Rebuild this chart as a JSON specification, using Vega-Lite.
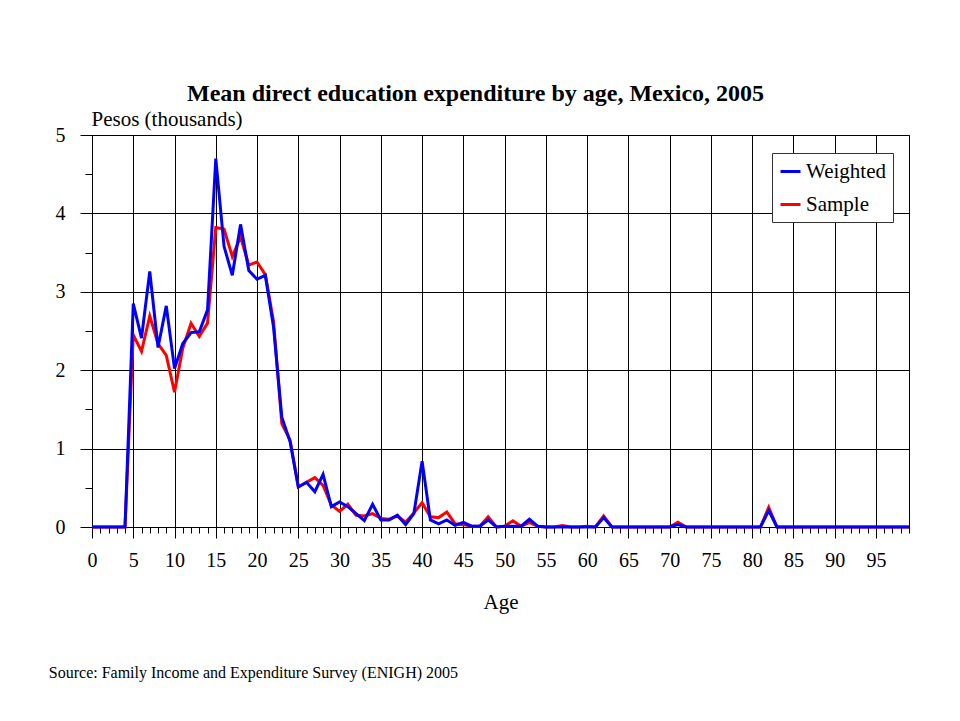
{
  "$schema": "https://vega.github.io/schema/vega-lite/v6.json",
  "width": 817,
  "height": 392,
  "autosize": {"type": "none"},
  "padding": {"left": 92, "top": 135, "right": 51, "bottom": 194},
  "background": "white",
  "config": {
    "view": {"stroke": "black", "strokeWidth": 1},
    "font": "Liberation Serif",
    "axis": {
      "labelFont": "Liberation Serif",
      "titleFont": "Liberation Serif",
      "labelColor": "black",
      "titleColor": "black",
      "titleFontWeight": "normal",
      "labelFlush": false,
      "labelOverlap": false
    },
    "legend": {
      "orient": "none",
      "legendX": 680,
      "legendY": 18,
      "strokeColor": "#333333",
      "fillColor": "white",
      "padding": 7,
      "labelFont": "Liberation Serif",
      "labelFontSize": 21,
      "labelColor": "black",
      "symbolType": "stroke",
      "symbolStrokeWidth": 3,
      "symbolSize": 400,
      "labelOffset": 4,
      "rowPadding": 11
    }
  },
  "data": {
    "values": [
      {"age": 0, "Weighted": 0, "Sample": 0},
      {"age": 1, "Weighted": 0, "Sample": 0},
      {"age": 2, "Weighted": 0, "Sample": 0},
      {"age": 3, "Weighted": 0, "Sample": 0},
      {"age": 4, "Weighted": 0, "Sample": 0},
      {"age": 5, "Weighted": 2.85, "Sample": 2.45},
      {"age": 6, "Weighted": 2.41, "Sample": 2.24},
      {"age": 7, "Weighted": 3.26, "Sample": 2.69},
      {"age": 8, "Weighted": 2.29, "Sample": 2.34},
      {"age": 9, "Weighted": 2.82, "Sample": 2.19},
      {"age": 10, "Weighted": 2.02, "Sample": 1.72},
      {"age": 11, "Weighted": 2.34, "Sample": 2.28},
      {"age": 12, "Weighted": 2.48, "Sample": 2.6},
      {"age": 13, "Weighted": 2.49, "Sample": 2.43},
      {"age": 14, "Weighted": 2.77, "Sample": 2.6},
      {"age": 15, "Weighted": 4.7, "Sample": 3.82},
      {"age": 16, "Weighted": 3.58, "Sample": 3.8},
      {"age": 17, "Weighted": 3.21, "Sample": 3.45},
      {"age": 18, "Weighted": 3.86, "Sample": 3.7},
      {"age": 19, "Weighted": 3.27, "Sample": 3.34},
      {"age": 20, "Weighted": 3.16, "Sample": 3.38},
      {"age": 21, "Weighted": 3.21, "Sample": 3.22},
      {"age": 22, "Weighted": 2.55, "Sample": 2.62},
      {"age": 23, "Weighted": 1.4, "Sample": 1.32},
      {"age": 24, "Weighted": 1.09, "Sample": 1.11},
      {"age": 25, "Weighted": 0.51, "Sample": 0.51},
      {"age": 26, "Weighted": 0.57, "Sample": 0.57},
      {"age": 27, "Weighted": 0.45, "Sample": 0.63},
      {"age": 28, "Weighted": 0.67, "Sample": 0.53},
      {"age": 29, "Weighted": 0.26, "Sample": 0.28},
      {"age": 30, "Weighted": 0.32, "Sample": 0.2},
      {"age": 31, "Weighted": 0.26, "Sample": 0.29},
      {"age": 32, "Weighted": 0.17, "Sample": 0.15},
      {"age": 33, "Weighted": 0.08, "Sample": 0.14},
      {"age": 34, "Weighted": 0.29, "Sample": 0.17},
      {"age": 35, "Weighted": 0.09, "Sample": 0.11},
      {"age": 36, "Weighted": 0.09, "Sample": 0.1},
      {"age": 37, "Weighted": 0.15, "Sample": 0.14},
      {"age": 38, "Weighted": 0.03, "Sample": 0.06},
      {"age": 39, "Weighted": 0.17, "Sample": 0.18},
      {"age": 40, "Weighted": 0.84, "Sample": 0.31},
      {"age": 41, "Weighted": 0.09, "Sample": 0.13},
      {"age": 42, "Weighted": 0.04, "Sample": 0.12},
      {"age": 43, "Weighted": 0.09, "Sample": 0.19},
      {"age": 44, "Weighted": 0.02, "Sample": 0.04},
      {"age": 45, "Weighted": 0.06, "Sample": 0.03},
      {"age": 46, "Weighted": 0.01, "Sample": 0.01},
      {"age": 47, "Weighted": 0.01, "Sample": 0.01},
      {"age": 48, "Weighted": 0.09, "Sample": 0.13},
      {"age": 49, "Weighted": 0, "Sample": 0},
      {"age": 50, "Weighted": 0.01, "Sample": 0.01},
      {"age": 51, "Weighted": 0.01, "Sample": 0.08},
      {"age": 52, "Weighted": 0.01, "Sample": 0.01},
      {"age": 53, "Weighted": 0.1, "Sample": 0.06},
      {"age": 54, "Weighted": 0.01, "Sample": 0.01},
      {"age": 55, "Weighted": 0, "Sample": 0},
      {"age": 56, "Weighted": 0, "Sample": 0},
      {"age": 57, "Weighted": 0, "Sample": 0.02},
      {"age": 58, "Weighted": 0, "Sample": 0},
      {"age": 59, "Weighted": 0, "Sample": 0},
      {"age": 60, "Weighted": 0, "Sample": 0.01},
      {"age": 61, "Weighted": 0, "Sample": 0},
      {"age": 62, "Weighted": 0.12, "Sample": 0.14},
      {"age": 63, "Weighted": 0, "Sample": 0},
      {"age": 64, "Weighted": 0, "Sample": 0},
      {"age": 65, "Weighted": 0, "Sample": 0},
      {"age": 66, "Weighted": 0, "Sample": 0},
      {"age": 67, "Weighted": 0, "Sample": 0},
      {"age": 68, "Weighted": 0, "Sample": 0},
      {"age": 69, "Weighted": 0, "Sample": 0},
      {"age": 70, "Weighted": 0, "Sample": 0},
      {"age": 71, "Weighted": 0.03, "Sample": 0.06},
      {"age": 72, "Weighted": 0, "Sample": 0},
      {"age": 73, "Weighted": 0, "Sample": 0},
      {"age": 74, "Weighted": 0, "Sample": 0},
      {"age": 75, "Weighted": 0, "Sample": 0},
      {"age": 76, "Weighted": 0, "Sample": 0},
      {"age": 77, "Weighted": 0, "Sample": 0},
      {"age": 78, "Weighted": 0, "Sample": 0},
      {"age": 79, "Weighted": 0, "Sample": 0},
      {"age": 80, "Weighted": 0, "Sample": 0},
      {"age": 81, "Weighted": 0, "Sample": 0},
      {"age": 82, "Weighted": 0.21, "Sample": 0.25},
      {"age": 83, "Weighted": 0, "Sample": 0},
      {"age": 84, "Weighted": 0, "Sample": 0},
      {"age": 85, "Weighted": 0, "Sample": 0},
      {"age": 86, "Weighted": 0, "Sample": 0},
      {"age": 87, "Weighted": 0, "Sample": 0},
      {"age": 88, "Weighted": 0, "Sample": 0},
      {"age": 89, "Weighted": 0, "Sample": 0},
      {"age": 90, "Weighted": 0, "Sample": 0},
      {"age": 91, "Weighted": 0, "Sample": 0},
      {"age": 92, "Weighted": 0, "Sample": 0},
      {"age": 93, "Weighted": 0, "Sample": 0},
      {"age": 94, "Weighted": 0, "Sample": 0},
      {"age": 95, "Weighted": 0, "Sample": 0},
      {"age": 96, "Weighted": 0, "Sample": 0},
      {"age": 97, "Weighted": 0, "Sample": 0},
      {"age": 98, "Weighted": 0, "Sample": 0},
      {"age": 99, "Weighted": 0, "Sample": 0}
    ]
  },
  "resolve": {"axis": {"x": "independent", "y": "independent"}},
  "layer": [
    {
      "mark": {"type": "line", "strokeWidth": 3},
      "encoding": {
        "x": {
          "field": "age", "type": "quantitative",
          "scale": {"domain": [0, 99], "nice": false, "zero": false},
          "axis": {
            "orient": "bottom",
            "values": [0, 5, 10, 15, 20, 25, 30, 35, 40, 45, 50, 55, 60, 65, 70, 75, 80, 85, 90, 95],
            "grid": true, "gridColor": "black", "gridWidth": 1, "gridOpacity": 1,
            "tickSize": 11, "tickColor": "black", "tickWidth": 1,
            "domain": true, "domainColor": "black", "domainWidth": 1,
            "labelFontSize": 20, "labelPadding": 12,
            "title": "Age", "titleFontSize": 21,
            "titleX": 408.5, "titleY": 81, "titleAlign": "center", "titleBaseline": "alphabetic"
          }
        },
        "y": {
          "field": "Sample", "type": "quantitative",
          "scale": {"domain": [0, 5], "nice": false, "zero": true},
          "axis": {
            "orient": "left",
            "values": [0, 1, 2, 3, 4, 5],
            "grid": true, "gridColor": "black", "gridWidth": 1, "gridOpacity": 1,
            "tickSize": 12, "tickColor": "black", "tickWidth": 1,
            "domain": true, "domainColor": "black", "domainWidth": 1,
            "labelFontSize": 20, "labelPadding": 15,
            "title": "Pesos (thousands)", "titleFontSize": 21, "titleAngle": 0,
            "titleX": -1, "titleY": -10, "titleAlign": "left", "titleBaseline": "alphabetic"
          }
        },
        "color": {
          "datum": "Sample", "type": "nominal",
          "scale": {"domain": ["Weighted", "Sample"], "range": ["#0000FF", "#FF0000"]},
          "legend": {"title": null}
        }
      }
    },
    {
      "mark": {"type": "line", "strokeWidth": 3},
      "encoding": {
        "x": {
          "field": "age", "type": "quantitative",
          "scale": {"domain": [0, 99], "nice": false, "zero": false},
          "axis": {
            "orient": "bottom",
            "values": [0,1,2,3,4,5,6,7,8,9,10,11,12,13,14,15,16,17,18,19,20,21,22,23,24,25,26,27,28,29,30,31,32,33,34,35,36,37,38,39,40,41,42,43,44,45,46,47,48,49,50,51,52,53,54,55,56,57,58,59,60,61,62,63,64,65,66,67,68,69,70,71,72,73,74,75,76,77,78,79,80,81,82,83,84,85,86,87,88,89,90,91,92,93,94,95,96,97,98,99],
            "grid": false, "domain": false, "labels": false,
            "tickSize": 6, "tickColor": "black", "tickWidth": 1,
            "title": null
          }
        },
        "y": {
          "field": "Weighted", "type": "quantitative",
          "scale": {"domain": [0, 5], "nice": false, "zero": true},
          "axis": {
            "orient": "left",
            "values": [0.5, 1.5, 2.5, 3.5, 4.5],
            "grid": false, "domain": false, "labels": false,
            "tickSize": 7, "tickColor": "black", "tickWidth": 1,
            "title": null
          }
        },
        "color": {
          "datum": "Weighted", "type": "nominal",
          "scale": {"domain": ["Weighted", "Sample"], "range": ["#0000FF", "#FF0000"]},
          "legend": {"title": null}
        }
      }
    },
    {
      "mark": {"type": "line", "opacity": 0},
      "encoding": {
        "x": {
          "field": "age", "type": "quantitative",
          "scale": {"domain": [0, 99], "nice": false, "zero": false},
          "axis": {
            "orient": "bottom",
            "grid": false, "domain": false, "labels": false, "ticks": false,
            "title": "Source: Family Income and Expenditure Survey (ENIGH) 2005",
            "titleFontSize": 16,
            "titleX": -43.7, "titleY": 150, "titleAlign": "left", "titleBaseline": "alphabetic"
          }
        },
        "y": {
          "field": "Weighted", "type": "quantitative",
          "scale": {"domain": [0, 5], "nice": false, "zero": true},
          "axis": {
            "orient": "left",
            "grid": false, "domain": false, "labels": false, "ticks": false,
            "title": "Mean direct education expenditure by age, Mexico, 2005",
            "titleFontSize": 24, "titleFontWeight": "bold", "titleAngle": 0,
            "titleX": 383, "titleY": -35, "titleAlign": "center", "titleBaseline": "alphabetic"
          }
        }
      }
    }
  ]
}
